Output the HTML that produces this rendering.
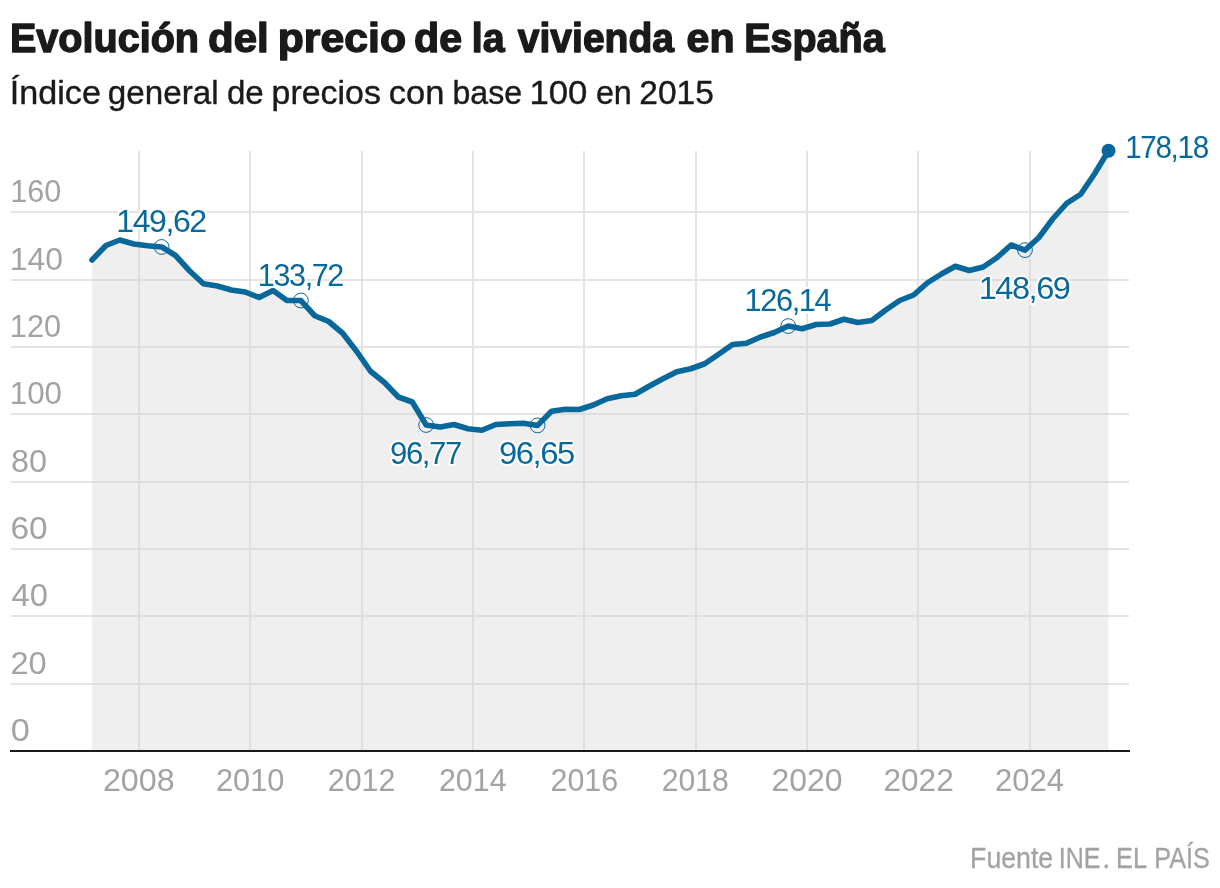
<!DOCTYPE html>
<html lang="es">
<head>
<meta charset="utf-8">
<title>Evolución del precio de la vivienda en España</title>
<style>
html,body{margin:0;padding:0;background:#fff;}
body{width:1220px;height:888px;overflow:hidden;font-family:"Liberation Sans",sans-serif;}
svg{display:block;will-change:transform;}
svg text{font-family:"Liberation Sans",sans-serif;}
.title text{font-weight:700;font-size:40.6px;fill:#1a1a1a;stroke:#1a1a1a;stroke-width:1.4px;stroke-linejoin:round;}
.sub text{font-size:33.5px;fill:#1a1a1a;stroke:#1a1a1a;stroke-width:0.4px;}
.ax text{font-size:31px;fill:#a3a3a3;}
.src text{font-size:28.6px;fill:#a3a3a3;stroke:#a3a3a3;stroke-width:0.3px;}
.lab text{font-size:31px;letter-spacing:-0.045em;fill:#08689b;}
.halo text{font-size:31px;letter-spacing:-0.045em;fill:#fff;stroke:#fff;stroke-width:3.8px;stroke-linejoin:round;}
.grid line{stroke:#e4e4e4;stroke-width:2;fill:none;}
</style>
</head>
<body>
<svg width="1220" height="888" viewBox="0 0 1220 888">
<rect x="0" y="0" width="1220" height="888" fill="#ffffff"/>
<!-- headline -->
<g class="title">
<text transform="translate(9.93 51.6) scale(0.9752 1)">Evolución</text>
<text transform="translate(208.02 51.6) scale(1.0343 1)">del</text>
<text transform="translate(277.71 51.6) scale(1.0534 1)">precio</text>
<text transform="translate(414.05 51.6) scale(1.0135 1)">de</text>
<text transform="translate(471.69 51.6) scale(0.9708 1)">la</text>
<text transform="translate(517.81 51.6) scale(0.9612 1)">vivienda</text>
<text transform="translate(686.55 51.6) scale(1.0131 1)">en</text>
<text transform="translate(744.19 51.6) scale(0.9729 1)">España</text>
</g>
<!-- subtitle -->
<g class="sub">
<text transform="translate(9.81 103.8) scale(1.0196 1)">Índice</text>
<text transform="translate(107.87 103.8) scale(0.9907 1)">general</text>
<text transform="translate(226.88 103.8) scale(0.9883 1)">de</text>
<text transform="translate(271.58 103.8) scale(1.0127 1)">precios</text>
<text transform="translate(388.82 103.8) scale(1.0299 1)">con</text>
<text transform="translate(452.45 103.8) scale(0.9589 1)">base</text>
<text transform="translate(529.42 103.8) scale(1.0371 1)">100</text>
<text transform="translate(595.91 103.8) scale(0.9635 1)">en</text>
<text transform="translate(639.28 103.8) scale(0.9999 1)">2015</text>
</g>
<!-- grid -->
<g class="grid">
<line x1="11" y1="212" x2="1129" y2="212"/>
<line x1="11" y1="280" x2="1129" y2="280"/>
<line x1="11" y1="347" x2="1129" y2="347"/>
<line x1="11" y1="414" x2="1129" y2="414"/>
<line x1="11" y1="482" x2="1129" y2="482"/>
<line x1="11" y1="549" x2="1129" y2="549"/>
<line x1="11" y1="616" x2="1129" y2="616"/>
<line x1="11" y1="684" x2="1129" y2="684"/>
<line x1="139" y1="151" x2="139" y2="751"/>
<line x1="250" y1="151" x2="250" y2="751"/>
<line x1="362" y1="151" x2="362" y2="751"/>
<line x1="473" y1="151" x2="473" y2="751"/>
<line x1="584" y1="151" x2="584" y2="751"/>
<line x1="696" y1="151" x2="696" y2="751"/>
<line x1="807" y1="151" x2="807" y2="751"/>
<line x1="918" y1="151" x2="918" y2="751"/>
<line x1="1030" y1="151" x2="1030" y2="751"/>
</g>
<!-- area under the curve (translucent, over the grid) -->
<path d="M92.0,260 L105.92,245.5 L119.85,240 L133.78,244 L147.7,245.75 L161.62,246.97 L175.55,255.5 L189.48,270.75 L203.4,283.75 L217.32,286 L231.25,290 L245.18,292 L259.1,297.5 L273.02,290.5 L286.95,300.5 L300.88,300.53 L314.8,315.75 L328.73,321.5 L342.65,333.25 L356.57,351.25 L370.5,371.25 L384.43,382.5 L398.35,397 L412.28,402 L426.2,425.0 L440.12,427 L454.05,424.5 L467.98,428.75 L481.9,430.25 L495.83,424.5 L509.75,423.75 L523.67,423.25 L537.6,425.4 L551.53,411.25 L565.45,409.25 L579.38,409.5 L593.3,405 L607.23,398.75 L621.15,395.75 L635.08,394.25 L649.0,386.25 L662.93,378.75 L676.85,371.75 L690.77,368.75 L704.7,363.75 L718.62,354.25 L732.55,344.5 L746.48,343.25 L760.4,337 L774.33,332.5 L788.25,326.06 L802.18,328.75 L816.1,324.5 L830.03,324 L843.95,319.25 L857.88,322.5 L871.8,320.5 L885.73,310 L899.65,300.5 L913.58,295 L927.5,282.75 L941.43,274 L955.35,266.25 L969.28,270.5 L983.2,267 L997.12,257.5 L1011.05,245 L1024.97,250.1 L1038.9,237.5 L1052.83,218.75 L1066.75,203.25 L1080.68,194.25 L1094.6,173.75 L1108.53,150.76 L1108.53,751 L92.0,751 Z" fill="#d4d4d4" fill-opacity="0.37" stroke="none"/>
<!-- baseline -->
<line x1="10" y1="751" x2="1130" y2="751" stroke="#1a1a1a" stroke-width="2"/>
<!-- axis tick labels -->
<g class="ax">
<text transform="translate(10.26 202) scale(0.9844 1)">160</text>
<text transform="translate(9.75 270) scale(1.0281 1)">140</text>
<text transform="translate(9.84 337) scale(0.9906 1)">120</text>
<text transform="translate(9.8 404) scale(1.0094 1)">100</text>
<text transform="translate(10.9 472) scale(1.046 1)">80</text>
<text transform="translate(10.43 539) scale(1.0784 1)">60</text>
<text transform="translate(11.44 606) scale(1.0568 1)">40</text>
<text transform="translate(10.47 674) scale(1.05 1)">20</text>
<text transform="translate(10.72 741) scale(1.1089 1)">0</text>
<text transform="translate(102.89 790.8) scale(1.0412 1)">2008</text>
<text transform="translate(215.96 790.8) scale(0.992 1)">2010</text>
<text transform="translate(327.73 790.8) scale(0.9814 1)">2012</text>
<text transform="translate(438.98 790.8) scale(0.9798 1)">2014</text>
<text transform="translate(550.48 790.8) scale(0.9806 1)">2016</text>
<text transform="translate(661.74 790.8) scale(0.973 1)">2018</text>
<text transform="translate(771.4 790.8) scale(1.0336 1)">2020</text>
<text transform="translate(883.42 790.8) scale(1.0195 1)">2022</text>
<text transform="translate(995.05 790.8) scale(1.0009 1)">2024</text>
</g>
<!-- series -->
<path d="M92.0,260 L105.92,245.5 L119.85,240 L133.78,244 L147.7,245.75 L161.62,246.97 L175.55,255.5 L189.48,270.75 L203.4,283.75 L217.32,286 L231.25,290 L245.18,292 L259.1,297.5 L273.02,290.5 L286.95,300.5 L300.88,300.53 L314.8,315.75 L328.73,321.5 L342.65,333.25 L356.57,351.25 L370.5,371.25 L384.43,382.5 L398.35,397 L412.28,402 L426.2,425.0 L440.12,427 L454.05,424.5 L467.98,428.75 L481.9,430.25 L495.83,424.5 L509.75,423.75 L523.67,423.25 L537.6,425.4 L551.53,411.25 L565.45,409.25 L579.38,409.5 L593.3,405 L607.23,398.75 L621.15,395.75 L635.08,394.25 L649.0,386.25 L662.93,378.75 L676.85,371.75 L690.77,368.75 L704.7,363.75 L718.62,354.25 L732.55,344.5 L746.48,343.25 L760.4,337 L774.33,332.5 L788.25,326.06 L802.18,328.75 L816.1,324.5 L830.03,324 L843.95,319.25 L857.88,322.5 L871.8,320.5 L885.73,310 L899.65,300.5 L913.58,295 L927.5,282.75 L941.43,274 L955.35,266.25 L969.28,270.5 L983.2,267 L997.12,257.5 L1011.05,245 L1024.97,250.1 L1038.9,237.5 L1052.83,218.75 L1066.75,203.25 L1080.68,194.25 L1094.6,173.75 L1108.53,150.76" fill="none" stroke="#08689b" stroke-width="5.6" stroke-linejoin="round" stroke-linecap="round"/>
<circle cx="161.62" cy="246.97" r="7.4" fill="none" stroke="#08689b" stroke-width="1"/>
<circle cx="300.88" cy="300.53" r="7.4" fill="none" stroke="#08689b" stroke-width="1"/>
<circle cx="426.2" cy="425.0" r="7.4" fill="none" stroke="#08689b" stroke-width="1"/>
<circle cx="537.6" cy="425.4" r="7.4" fill="none" stroke="#08689b" stroke-width="1"/>
<circle cx="788.25" cy="326.06" r="7.4" fill="none" stroke="#08689b" stroke-width="1"/>
<circle cx="1024.97" cy="250.1" r="7.4" fill="none" stroke="#08689b" stroke-width="1"/>
<circle cx="1108.53" cy="150.76" r="7" fill="#08689b"/>
<!-- value annotations: white halo, then ink -->
<g class="halo">
<text transform="translate(116.34 231.9) scale(1.0335 1)">149,62</text>
<text transform="translate(257.86 285.7) scale(0.9845 1)">133,72</text>
<text transform="translate(389.94 463.9) scale(1.007 1)">96,77</text>
<text transform="translate(499.06 463.9) scale(1.0589 1)">96,65</text>
<text transform="translate(744.54 311.2) scale(0.9926 1)">126,14</text>
<text transform="translate(978.7 298.8) scale(1.0499 1)">148,69</text>
<text transform="translate(1125.13 157.9) scale(0.957 1)">178,18</text>
</g>
<g class="lab">
<text transform="translate(116.34 231.9) scale(1.0335 1)">149,62</text>
<text transform="translate(257.86 285.7) scale(0.9845 1)">133,72</text>
<text transform="translate(389.94 463.9) scale(1.007 1)">96,77</text>
<text transform="translate(499.06 463.9) scale(1.0589 1)">96,65</text>
<text transform="translate(744.54 311.2) scale(0.9926 1)">126,14</text>
<text transform="translate(978.7 298.8) scale(1.0499 1)">148,69</text>
<text transform="translate(1125.13 157.9) scale(0.957 1)">178,18</text>
</g>
<!-- credit -->
<g class="src">
<text transform="translate(970.11 867.6) scale(0.9332 1)">Fuente</text>
<text transform="translate(1058.8 867.6) scale(0.8753 1)">INE</text>
<text transform="translate(1102.14 867.6) scale(1.014 1)">.</text>
<text transform="translate(1116.12 867.6) scale(0.8852 1)">EL</text>
<text transform="translate(1154.33 867.6) scale(0.8808 1)">PAÍS</text>
</g>
</svg>
</body>
</html>
